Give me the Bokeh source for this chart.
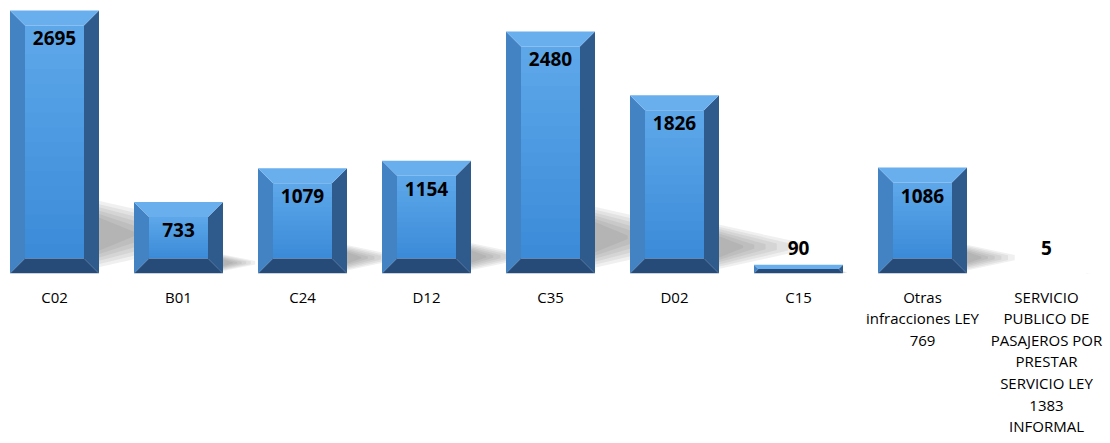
import numpy as np
from bokeh.plotting import figure
from bokeh.models import Range1d, FixedTicker, LinearAxis, ColumnDataSource
from bokeh.embed import file_html
from bokeh.resources import INLINE
from bokeh.core.properties import value

# ---- data ----
categories = [
    "C02", "B01", "C24", "D12", "C35", "D02", "C15",
    "Otras\ninfracciones LEY\n769",
    "SERVICIO\nPUBLICO DE\nPASAJEROS POR\nPRESTAR\nSERVICIO LEY\n1383\nINFORMAL",
]
counts = [2695, 733, 1079, 1154, 2480, 1826, 90, 1086, 5]

# ---- layout ----
W, H = 1110, 443
FRAME_H = 273
SLOT = 124.0
x0 = -54 / SLOT
x1 = (W - 54) / SLOT
y1 = 2797
dpx = (x1 - x0) / W          # data units per px (x)
dpy = y1 / FRAME_H           # data units per px (y)
BAR_W = 89 / SLOT
BEVEL = 15

p = figure(width=W, height=H, x_range=Range1d(x0, x1), y_range=Range1d(0, y1),
           output_backend="svg", toolbar_location=None,
           x_axis_type=None, y_axis_type=None,
           min_border_left=0, min_border_right=0, min_border_top=0,
           min_border_bottom=H - FRAME_H)
p.outline_line_color = None
p.background_fill_color = "white"
p.border_fill_color = "white"


def hex2rgb(h):
    h = h.lstrip("#")
    return tuple(int(h[i:i + 2], 16) for i in (0, 2, 4))


def mix(c1, c2, t):
    a, b = hex2rgb(c1), hex2rgb(c2)
    return "#%02x%02x%02x" % tuple(int(round(a[k] + (b[k] - a[k]) * t)) for k in range(3))


# ---- soft wedge shadows (behind the bars) ----
for s in [1.0, 0.86, 0.72, 0.58, 0.44, 0.3]:
    xs, ys = [], []
    for i, v in enumerate(counts):
        xr = i + BAR_W / 2
        xstart = xr - 5 * dpx
        L = 0.45 * v / dpy * s * dpx          # horizontal reach (data x)
        c = 0.15 * v                           # centre height (data y)
        hh0 = 0.13 * v * (0.35 + 0.65 * s)     # half-height at bar
        hh1 = 0.025 * v * s                    # half-height at tip
        xs.append([xstart, xstart, xr + L, xr + L])
        ys.append([c - hh0, c + hh0, c + hh1, c - hh1])
    p.patches(xs, ys, fill_color="#555555", fill_alpha=0.085, line_color=None)

# ---- bevelled bars ----
top_x, top_y, bot_x, bot_y, lft_x, lft_y, rgt_x, rgt_y = ([] for _ in range(8))
face_l, face_r, face_b, face_t, face_c = [], [], [], [], []
N = 16
for i, v in enumerate(counts):
    hp = v / dpy
    if hp < 1:
        continue  # sub-pixel bar: nothing visible
    bpx = min(BEVEL, hp / 2)
    bx, by = bpx * dpx, bpx * dpy
    xl, xr = i - BAR_W / 2, i + BAR_W / 2
    top_x.append([xl, xr, xr - bx, xl + bx]); top_y.append([v, v, v - by, v - by])
    bot_x.append([xl, xr, xr - bx, xl + bx]); bot_y.append([0, 0, by, by])
    lft_x.append([xl, xl, xl + bx, xl + bx]); lft_y.append([0, v, v - by, by])
    rgt_x.append([xr, xr, xr - bx, xr - bx]); rgt_y.append([0, v, v - by, by])
    if v - 2 * by > 0:
        edges = np.linspace(by, v - by, N + 1)
        for k in range(N):
            face_l.append(xl + bx); face_r.append(xr - bx)
            face_b.append(edges[k])
            face_t.append(min(edges[k + 1] + 1.5 * dpy, v - by))
            face_c.append(mix("#3b8ad8", "#5ea8ea", (k + 0.5) / N))

p.quad(left=face_l, right=face_r, bottom=face_b, top=face_t, fill_color=face_c, line_color=None)
p.patches(lft_x, lft_y, fill_color="#4383c4", line_color=None)
p.patches(rgt_x, rgt_y, fill_color="#2f5b8c", line_color=None)
p.patches(top_x, top_y, fill_color="#69aeed", line_color=None)
p.patches(bot_x, bot_y, fill_color="#264b79", line_color=None)

# ---- value labels ----
label_y, label_off = [], []
for v in counts:
    if v / dpy > 40:
        label_y.append(v); label_off.append(28)
    else:
        label_y.append(0); label_off.append(-26)
src = ColumnDataSource(dict(x=list(range(len(counts))), y=label_y, off=label_off,
                            t=[str(v) for v in counts]))
p.text(x="x", y="y", text="t", y_offset="off", source=src,
       text_font=value("Open Sans"), text_font_style="bold", text_font_size="19px",
       text_align="center", text_baseline="middle", text_color="#000000")

# ---- category axis ----
axis = LinearAxis(ticker=FixedTicker(ticks=list(range(len(categories)))),
                  major_label_overrides={i: c for i, c in enumerate(categories)})
axis.axis_line_color = None
axis.major_tick_line_color = None
axis.minor_tick_line_color = None
axis.major_tick_out = 0
axis.major_tick_in = 0
axis.major_label_standoff = 13
axis.major_label_text_font = "Open Sans"
axis.major_label_text_font_size = "15px"
axis.major_label_text_color = "#000000"
axis.major_label_text_line_height = 1.08
p.add_layout(axis, "below")

open("out.html", "w").write(file_html(p, INLINE))
